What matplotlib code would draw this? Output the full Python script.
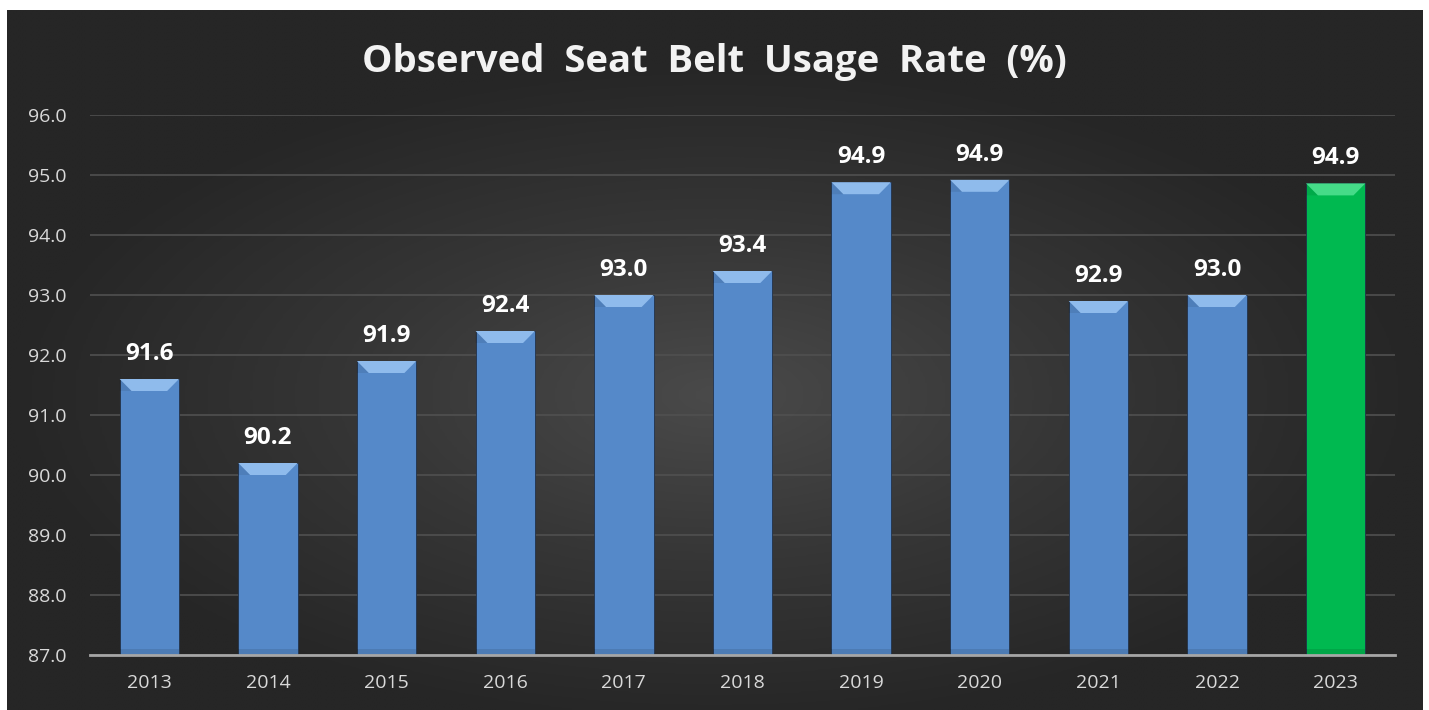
import matplotlib.pyplot as plt
import numpy as np
from matplotlib.colors import LinearSegmentedColormap
from matplotlib.patches import Polygon, Rectangle

years = ["2013", "2014", "2015", "2016", "2017", "2018", "2019", "2020", "2021", "2022", "2023"]
rates = [91.6, 90.2, 91.9, 92.4, 93.0, 93.4, 94.88, 94.92, 92.9, 93.0, 94.86]
yticks = [87.0, 88.0, 89.0, 90.0, 91.0, 92.0, 93.0, 94.0, 95.0, 96.0]

blue = "#5589c9"
blue_top = "#8fbbec"
green = "#00b950"
green_top = "#45db88"

fig = plt.figure(figsize=(14.29, 7.10), dpi=100)
fig.patch.set_facecolor("white")

# dark panel with radial gradient
bg = fig.add_axes([7 / 1429, 0, (1423 - 7) / 1429, 1 - 10 / 710])
yy, xx = np.mgrid[-1:1:300j, -1:1:600j]
r = np.clip(np.sqrt(xx ** 2 + ((yy - 0.1) / 0.95) ** 2), 0, 1)
cmap = LinearSegmentedColormap.from_list("panel", ["#4a4a4a", "#363636", "#262626"])
bg.imshow(r, cmap=cmap, vmin=0, vmax=1, aspect="auto", extent=[0, 1, 0, 1],
          interpolation="bilinear")
bg.set_axis_off()

ax = fig.add_axes([90 / 1429, (710 - 655) / 710, (1395 - 90) / 1429, (655 - 115) / 710])
ax.patch.set_alpha(0)

x = np.arange(len(years))
colors = [blue] * (len(years) - 1) + [green]
tops = [blue_top] * (len(years) - 1) + [green_top]
bars = ax.bar(x, [v - 87 for v in rates], bottom=87, width=0.5, color=colors,
              edgecolor="#22324a", linewidth=0.6, zorder=3)

# bevel on top of each bar, derived from bar geometry
for b, tc in zip(bars, tops):
    x0, w = b.get_x(), b.get_width()
    y1 = b.get_y() + b.get_height()
    inset = 0.2 * w
    dy = 0.2
    ax.add_patch(Polygon([[x0, y1], [x0 + w, y1], [x0 + w - inset, y1 - dy], [x0 + inset, y1 - dy]],
                         closed=True, facecolor=tc, edgecolor="none", zorder=4))
    ax.add_patch(Polygon([[x0, y1], [x0 + inset, y1 - dy], [x0, y1 - dy]],
                         closed=True, facecolor="#000000", alpha=0.08, edgecolor="none", zorder=4))
    ax.add_patch(Rectangle((x0, 87), w, 0.1, facecolor="#000000", alpha=0.1,
                           edgecolor="none", zorder=4))
    ax.text(x0 + w / 2, y1 + 0.22, f"{y1:.1f}", ha="center", va="bottom",
            color="white", fontsize=17.5, fontweight="bold", family="Open Sans", zorder=5)

ax.set_xlim(-0.5, len(years) - 0.5)
ax.set_ylim(87, 96)
ax.set_yticks(yticks)
ax.set_yticklabels([f"{t:.1f}" for t in yticks])
ax.set_xticks(x)
ax.set_xticklabels(years)
ax.tick_params(length=0, colors="#d9d9d9", labelsize=14)
ax.tick_params(axis="x", pad=14)
ax.tick_params(axis="y", pad=17)
for lab in ax.get_xticklabels() + ax.get_yticklabels():
    lab.set_family("Open Sans")
ax.grid(axis="y", color="#505050", linewidth=1.2, zorder=0)
for s in ["top", "right", "left"]:
    ax.spines[s].set_visible(False)
ax.spines["bottom"].set_color("#a6a6a6")
ax.spines["bottom"].set_linewidth(2)
ax.spines["bottom"].set_zorder(6)

fig.text(0.5, 1 - 62 / 710, "Observed  Seat  Belt  Usage  Rate  (%)", ha="center", va="center",
         color="#f2f2f2", fontsize=27.5, fontweight="bold", family="Open Sans")

fig.savefig("out.png", dpi=100, facecolor=fig.get_facecolor())
